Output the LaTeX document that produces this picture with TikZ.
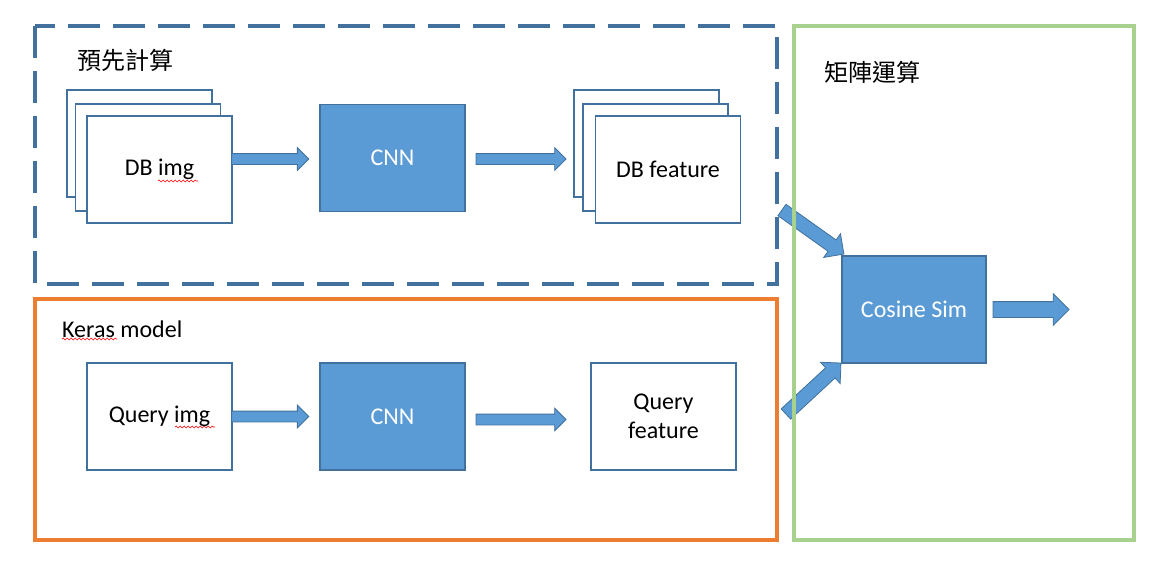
\documentclass[tikz,border=0pt]{standalone}
\usepackage{fontspec}
\setmainfont{Carlito}
\newfontfamily\cjk{Noto Sans CJK TC}
\usetikzlibrary{shapes.arrows,calc,decorations.pathmorphing}
\definecolor{fillblue}{HTML}{5B9BD5}
\definecolor{lineblue}{HTML}{41719C}
\definecolor{frameorange}{HTML}{ED7D31}
\definecolor{framegreen}{HTML}{A9D18E}
\begin{document}
\begin{tikzpicture}[x=1pt,y=-1pt,font=\fontsize{24}{29}\selectfont,
  page/.style={draw=lineblue,line width=1.3pt,fill=white,minimum width=145pt,minimum height=107pt,inner sep=0pt},
  proc/.style={page,fill=fillblue,text=white},
  flow/.style={single arrow,draw=lineblue,fill=fillblue,line width=0.8pt,inner xsep=0pt,inner ysep=5pt,minimum width=22pt,single arrow head extend=6pt,minimum height=77pt},
  bigflow/.style={flow,inner ysep=6.5pt,minimum width=29pt,single arrow head extend=7.5pt,minimum height=76pt},
  caption/.style={inner sep=0pt},
  squig/.style={red,line width=0.6pt,decorate,decoration={snake,amplitude=0.9pt,segment length=4pt}}]
  \useasboundingbox (0,0) rectangle (1172,575);
  % precomputed part
  \node (pre) [caption,anchor=west] at (77,60) {\cjk 預先計算};
  \node (dbimgc) [page] at (139.5,143.5) {};
  \node (dbimgb) [page] at (148,157.5) {};
  \node (dbimg) [page] at (159.5,169.5) {DB img};
  \node (cnn1) [proc] at (392.5,158) {CNN};
  \node (dbfeatc) [page] at (646.5,143.5) {};
  \node (dbfeatb) [page] at (655.5,157.5) {};
  \node (dbfeat) [page] at (668,169.5) {DB feature};
  \node (a1) [flow,anchor=tip] at ($(cnn1.west)+(-10,1)$) {};
  \node (a2) [flow,minimum height=90pt,anchor=tail] at ($(cnn1.east)+(10,1)$) {};
  % keras model part
  \node (keras) [caption,anchor=base west] at (62,337) {Keras model};
  \node (qimg) [page] at (159.5,416.5) {Query img};
  \node (cnn2) [proc] at (392.5,416.5) {CNN};
  \node (qfeat) [page,align=center] at (663.5,416.5) {Query\\feature};
  \node (a3) [flow,anchor=tip] at ($(cnn2.west)+(-10,0)$) {};
  \node (a4) [flow,minimum height=90pt,anchor=tail] at ($(cnn2.east)+(10,3)$) {};
  % matrix part
  \node (mat) [caption,anchor=west] at (824,72) {\cjk 矩陣運算};
  \node (cos) [proc,minimum width=144pt] at (914,309.5) {Cosine Sim};
  \node (a5) [bigflow,rotate=-35.4,anchor=tip] at ($(cos.north west)+(3,-1)$) {};
  \node (a6) [bigflow,rotate=42.8,minimum height=75pt,anchor=tip] at ($(cos.south west)+(0,-1)$) {};
  \node (a7) [bigflow,inner ysep=7.5pt,minimum width=31pt,single arrow head extend=8pt,anchor=tail] at ($(cos.east)+(6,0)$) {};
  \draw[squig] (158,181) -- (198,181);
  \draw[squig] (175,427) -- (215,427);
  \draw[squig] (62,339) -- (117,339);
  % frames
  \draw[lineblue,line width=3.5pt,dash pattern=on 32pt off 13pt] (35,26) rectangle (777,284);
  \draw[frameorange,line width=3.3pt] (35,299) rectangle (777,540);
  \draw[framegreen,line width=3.3pt] (794,26) rectangle (1134,540);
\end{tikzpicture}
\end{document}
